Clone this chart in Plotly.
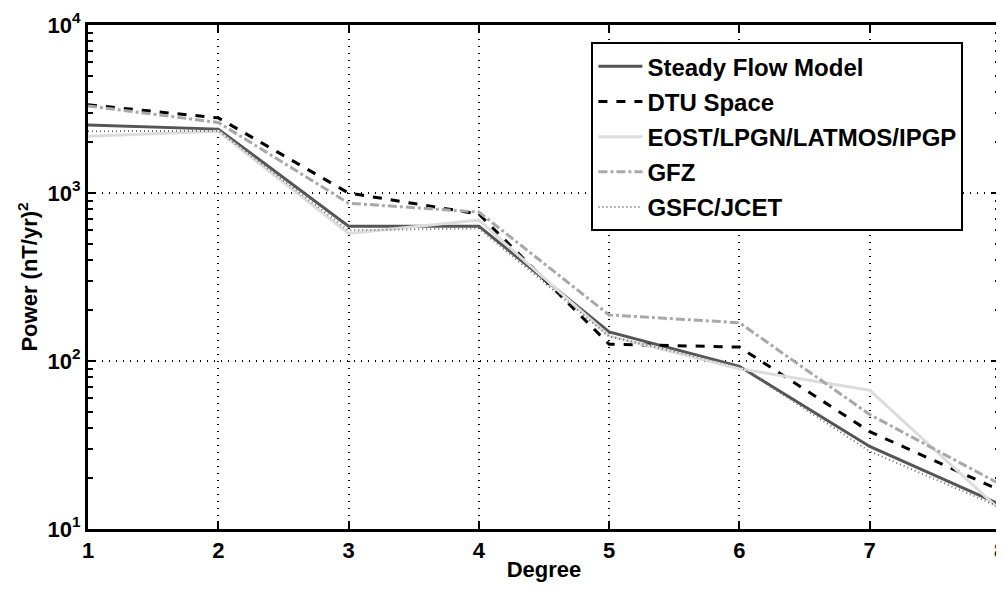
import plotly.graph_objects as go

degrees = [1, 2, 3, 4, 5, 6, 7, 8]
steady = [2540, 2400, 635, 635, 149, 93, 31, 14]
dtu = [3350, 2800, 1000, 750, 126, 121, 38, 17]
eost = [2180, 2330, 575, 690, 141, 90, 67, 13]
gfz = [3300, 2630, 870, 770, 188, 169, 48, 18.5]
gsfc = [2330, 2350, 600, 615, 140, 93, 29, 13.5]

names = ["Steady Flow Model", "DTU Space", "EOST/LPGN/LATMOS/IPGP", "GFZ", "GSFC/JCET"]
ytickvals = [10, 100, 1000, 10000]
yticktext = ["10<sup>1</sup>", "10<sup>2</sup>", "10<sup>3</sup>", "10<sup>4</sup>"]
yminor = [m * 10 ** e for e in (1, 2, 3) for m in range(2, 10)]

styles = [
    dict(color="#555555", width=3, dash="solid"),
    dict(color="#000000", width=3, dash="dash"),
    dict(color="#dcdcdc", width=3, dash="solid"),
    dict(color="#a8a8a8", width=3, dash="dashdot"),
    dict(color="#6e6e6e", width=2, dash="1px,3px"),
]
series = [steady, dtu, eost, gfz, gsfc]

fam = "Liberation Sans, Arial, sans-serif"
bold = dict(family=fam, size=22, color="black", weight="bold")

fig = go.Figure()
for i, (n, s, st) in enumerate(zip(names, series, styles)):
    fig.add_trace(go.Scatter(x=degrees, y=s, mode="lines", name=n, line=st,
                             legendgroup=f"g{i}"))

# the page body adds an 8px margin, so the figure is sized to fit the 1004x590 window
fig.update_layout(
    width=996, height=582,
    margin=dict(l=80, r=4, t=17, b=61, autoexpand=False),
    plot_bgcolor="white", paper_bgcolor="white",
    font=bold,
    legend=dict(x=0.552, y=0.966, xanchor="left", yanchor="top",
                bordercolor="black", borderwidth=2, bgcolor="white",
                font=dict(family=fam, size=24, color="black", weight="bold"),
                itemwidth=44, tracegroupgap=1),
    xaxis=dict(
        range=[1, 8], tickvals=degrees,
        tickfont=bold, ticklabeloverflow="allow",
        ticks="inside", ticklen=8, tickwidth=2, tickcolor="black",
        showline=True, linecolor="black", linewidth=3, mirror="allticks",
        showgrid=True, gridcolor="black", griddash="1px,6px", gridwidth=1.5,
        zeroline=False,
        title=dict(text="Degree", standoff=0, font=bold),
    ),
    yaxis=dict(
        type="log", range=[1, 4], tickvals=ytickvals, ticktext=yticktext,
        tickfont=bold,
        ticks="inside", ticklen=8, tickwidth=2, tickcolor="black",
        showline=True, linecolor="black", linewidth=3, mirror="allticks",
        showgrid=True, gridcolor="black", griddash="1px,6px", gridwidth=1.5,
        minor=dict(ticks="inside", ticklen=5, tickwidth=2, tickcolor="black",
                   tickmode="array", tickvals=yminor, showgrid=False),
        title=dict(text="Power (nT/yr)<sup>2</sup>", standoff=4, font=bold),
    ),
)

fig.write_html("out.html")
